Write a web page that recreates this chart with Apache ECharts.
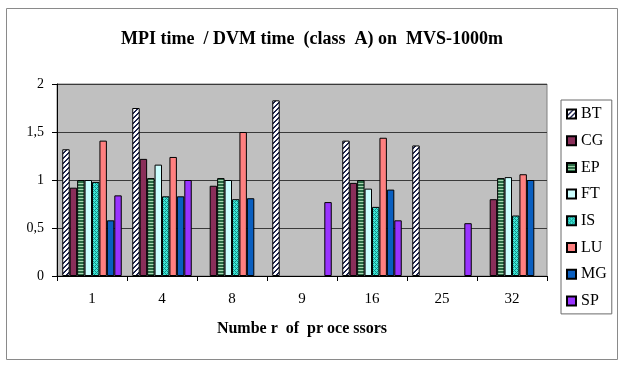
<!DOCTYPE html>
<html>
<head>
<meta charset="utf-8">
<script src="https://cdn.jsdelivr.net/npm/echarts@6/dist/echarts.min.js"></script>
<style>html,body{margin:0;padding:0;background:#fff}#c{width:624px;height:372px}</style>
</head>
<body>
<div id="c"></div>
<script>
const categories = ['1', '4', '8', '9', '16', '25', '32'];
const seriesNames = ['BT', 'CG', 'EP', 'FT', 'IS', 'LU', 'MG', 'SP'];
const BT = [1.32, 1.75, null, 1.83, 1.41, 1.36, null];
const CG = [0.92, 1.22, 0.94, null, 0.97, null, 0.80];
const EP = [1.00, 1.02, 1.02, null, 1.00, null, 1.02];
const FT = [1.00, 1.16, 1.00, null, 0.91, null, 1.03];
const IS = [0.98, 0.83, 0.80, null, 0.72, null, 0.63];
const LU = [1.41, 1.24, 1.50, null, 1.44, null, 1.06];
const MG = [0.58, 0.83, 0.81, null, 0.90, null, 1.00];
const SP = [0.84, 1.00, null, 0.77, 0.58, 0.55, null];
const yTicks = [0, 0.5, 1, 1.5, 2];

function pattern(w, h, fn) {
  const c = document.createElement('canvas');
  c.width = w; c.height = h;
  const ctx = c.getContext('2d');
  for (let y = 0; y < h; y++) for (let x = 0; x < w; x++) {
    ctx.fillStyle = fn(x, y);
    ctx.fillRect(x, y, 1, 1);
  }
  return { image: c, repeat: 'repeat' };
}
const btPat = pattern(5, 5, (x, y) => ((x + y) % 5 < 2 ? '#1e2450' : '#ffffff'));
const epPat = pattern(4, 3, (x, y) => (y % 3 === 0 ? '#a8d8b0' : '#2a6a44'));
const isPat = pattern(4, 4, (x, y) => (((x + y) % 4 === 0 || ((x - y + 8) % 4 === 0)) ? '#138c86' : '#3ee6d6'));

const fills = {
  BT: btPat, CG: '#8a2f5a', EP: epPat, FT: '#ccffff',
  IS: isPat, LU: '#ff8080', MG: '#0a5fc0', SP: '#9933ff'
};
const dataMap = { BT, CG, EP, FT, IS, LU, MG, SP };

const serif = 'Liberation Serif';
const chart = echarts.init(document.getElementById('c'), null, { renderer: 'canvas' });
chart.setOption({
  backgroundColor: '#fff',
  animation: false,
  graphic: [{
    type: 'rect', shape: { x: 6.5, y: 8.5, width: 611, height: 351 },
    style: { fill: 'none', stroke: '#8a8a8a', lineWidth: 1 }, silent: true, z: -1
  }],
  title: {
    text: 'MPI time  / DVM time  (class  A) on  MVS-1000m',
    left: 'center', top: 25,
    textStyle: { fontFamily: serif, fontWeight: 'bold', fontSize: 18, color: '#000' }
  },
  legend: {
    orient: 'vertical', left: 561, top: 100,
    data: seriesNames,
    itemWidth: 9, itemHeight: 9, itemGap: 10.7,
    padding: [6, 5, 5, 5],
    borderColor: '#6a6a6a', borderWidth: 1,
    backgroundColor: '#fff',
    textStyle: { fontFamily: serif, fontSize: 16, color: '#000', lineHeight: 16 },
    icon: 'rect'
  },
  grid: {
    left: 57, right: 77, top: 84, bottom: 96,
    show: true, backgroundColor: '#c0c0c0', borderColor: '#808080', borderWidth: 1
  },
  xAxis: {
    type: 'category', data: categories,
    name: 'Numbe r  of  pr oce ssors', nameLocation: 'middle', nameGap: 45,
    nameTextStyle: { fontFamily: serif, fontWeight: 'bold', fontSize: 16, color: '#000' },
    axisLine: { show: true, lineStyle: { color: '#000', width: 1 } },
    axisTick: { show: true, length: 5, lineStyle: { color: '#000' } },
    axisLabel: { fontFamily: serif, fontSize: 15, color: '#000', margin: 16 },
    splitLine: { show: false }
  },
  yAxis: {
    type: 'value', min: yTicks[0], max: yTicks[yTicks.length - 1], interval: 0.5,
    axisLine: { show: true, lineStyle: { color: '#000', width: 1 } },
    axisTick: { show: true, length: 5, lineStyle: { color: '#000' } },
    axisLabel: {
      fontFamily: serif, fontSize: 14, color: '#000', margin: 13,
      formatter: v => String(v).replace('.', ',')
    },
    splitLine: { show: true, lineStyle: { color: '#3a3a3a', width: 1 } }
  },
  series: seriesNames.map(n => ({
    name: n, type: 'bar', data: dataMap[n],
    barGap: '0%', barCategoryGap: '15%',
    itemStyle: { color: fills[n], borderColor: '#000', borderWidth: 1 },
    emphasis: { disabled: true }
  }))
});
</script>
</body>
</html>
